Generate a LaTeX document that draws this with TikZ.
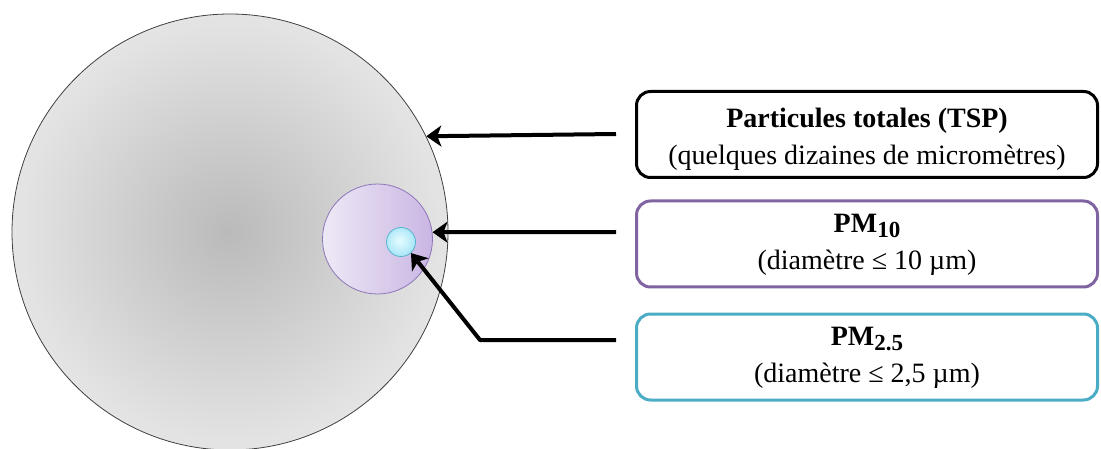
\documentclass[tikz,border=0pt]{standalone}
\usepackage{fontspec}
\setmainfont{Liberation Serif}
\usetikzlibrary{arrows.meta}
\definecolor{pmpurple}{HTML}{8064A2}
\definecolor{pmteal}{HTML}{4BACC6}
\definecolor{purpleedge}{HTML}{8E76B8}
\definecolor{purpleleft}{HTML}{EEE9F6}
\definecolor{purpleright}{HTML}{C9B6E3}
\definecolor{cyanedge}{HTML}{5AB4CC}
\pgfdeclareradialshading{bigball}{\pgfpoint{0bp}{0bp}}{rgb(0bp)=(0.73,0.73,0.73); rgb(12bp)=(0.81,0.81,0.81); rgb(24bp)=(0.89,0.89,0.89); rgb(35bp)=(0.93,0.93,0.93); rgb(50bp)=(0.93,0.93,0.93)}
\pgfdeclareradialshading{smallball}{\pgfpoint{-3bp}{3bp}}{rgb(0bp)=(0.90,0.99,1); rgb(18bp)=(0.74,0.93,0.98); rgb(35bp)=(0.56,0.86,0.95); rgb(50bp)=(0.56,0.86,0.95)}
\begin{document}
\begin{tikzpicture}[x=1pt,y=-1pt,
  box/.style={draw=#1, line width=3pt, rounded corners=14pt, minimum width=461pt,
    minimum height=86pt, inner sep=0pt, fill=white},
  boxtext/.style={align=center, inner sep=0pt, font=\fontsize{28}{37}\selectfont},
  arr/.style={line width=4pt, line join=round,
    -{Stealth[length=15pt,width=21pt,inset=4pt]}}]
\useasboundingbox (0,0) rectangle (1101,449);

% circles
\node[circle, minimum size=436pt, inner sep=0pt, draw=black!75, line width=0.8pt,
  shading=bigball] (tsp) at (230,232) {};
\node[circle, minimum size=110pt, inner sep=0pt, draw=purpleedge, line width=0.8pt,
  left color=purpleleft, right color=purpleright] (pm10) at (377.5,239) {};
\node[circle, minimum size=29pt, inner sep=0pt, draw=cyanedge, line width=0.8pt,
  shading=smallball] (pm25) at (401,242) {};

% boxes
\node[box=black] (b1) at (867,134.5) {};
\node[box=pmpurple] (b2) at (867,244) {};
\node[box=pmteal] (b3) at (867,357) {};
\node[boxtext] (t1) at ([yshift=-5pt]b1.center)
  {\bfseries Particules totales (TSP)\\(quelques dizaines de micromètres)};
\node[boxtext] (t2) at ([yshift=-1pt]b2.center)
  {\bfseries PM\raisebox{-5pt}{\fontsize{23}{23}\selectfont 10}\\(diamètre ≤ 10 µm)};
\node[boxtext] (t3) at ([yshift=-1pt]b3.center)
  {\bfseries PM\raisebox{-5pt}{\fontsize{23}{23}\selectfont 2.5}\\(diamètre ≤ 2,5 µm)};

% connectors
\coordinate (s1) at (616,134);
\coordinate (s2) at (616,232);
\coordinate (s3) at (616,340);
\coordinate (k3) at (480,340);
\draw[arr] (s1) -- (tsp.26.7);
\draw[arr] (s2) -- (pm10.7);
\draw[arr] (s3) -- (k3) -- (pm25.-48);
\end{tikzpicture}
\end{document}
